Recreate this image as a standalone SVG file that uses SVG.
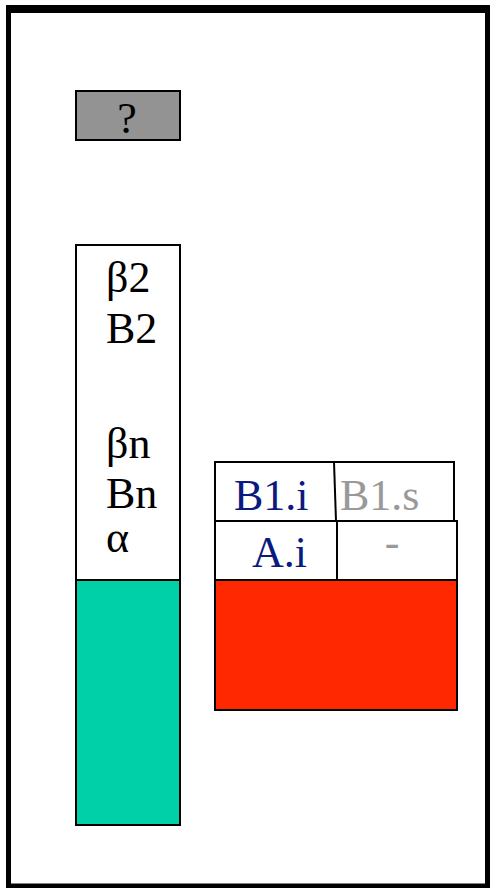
<svg xmlns="http://www.w3.org/2000/svg" width="490" height="888" viewBox="0 0 490 888">
<style>
.t{font-family:"Liberation Serif","Times New Roman",serif;font-size:44px;fill:#000}
.n{fill:#0b1a80}
.g{fill:#999}
.b{stroke:#000;stroke-width:2}
</style>
<rect x="0" y="0" width="490" height="888" fill="#fff"/>
<g id="frame">
<rect x="8.5" y="9" width="479" height="877" fill="#fff" stroke="#000" stroke-width="5"/>
<rect x="6" y="5" width="484" height="8" fill="#000"/>
</g>
<g id="qbox">
<rect class="b" x="76" y="91" width="104" height="49" fill="#939393"/>
<text class="t" x="127" y="133" font-size="40" text-anchor="middle">?</text>
</g>
<g id="stack">
<rect class="b" x="76" y="245" width="104" height="335" fill="#fff"/>
<rect class="b" x="76" y="580" width="104" height="245" fill="#00d0a8"/>
<text class="t" x="106" y="292">β2</text>
<text class="t" x="106" y="343">B2</text>
<text class="t" x="106" y="458">βn</text>
<text class="t" x="106" y="508">Bn</text>
<text class="t" x="106" y="552">α</text>
</g>
<g id="table">
<rect class="b" x="215" y="462" width="239" height="59" fill="#fff"/>
<rect class="b" x="215" y="521" width="242" height="59" fill="#fff"/>
<line class="b" x1="334" y1="462" x2="336" y2="521"/>
<line class="b" x1="337" y1="521" x2="337" y2="580"/>
<text class="t n" x="234" y="510">B1.i</text>
<text class="t g" x="340" y="510">B1.s</text>
<text class="t n" x="252" y="567">A.i</text>
<text class="t g" x="392" y="557" font-size="24" text-anchor="middle">-</text>
<rect class="b" x="215" y="580" width="242" height="130" fill="#ff2800"/>
</g>
</svg>
